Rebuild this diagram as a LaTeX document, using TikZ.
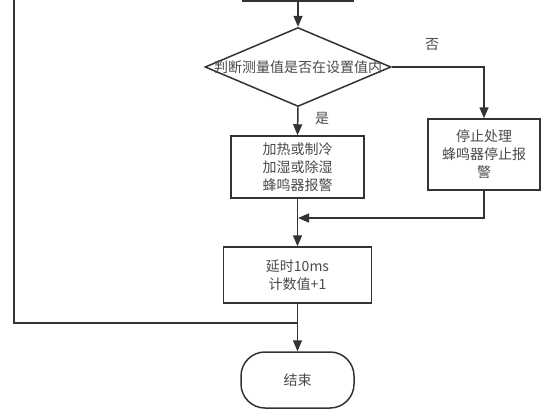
\documentclass[tikz,border=0pt]{standalone}
\usepackage{fontspec}
\setmainfont{Noto Sans CJK SC}
\usetikzlibrary{shapes.geometric,arrows.meta}
\definecolor{linec}{HTML}{333333}
\definecolor{txtc}{HTML}{4A4A4A}
\begin{document}
\begin{tikzpicture}[x=1pt,y=-1pt,
  line/.style={draw=linec,line width=1.5pt},
  arr/.style={line,-{Triangle[length=11pt,width=9pt]}},
  txt/.style={text=txtc,font=\fontsize{14}{18}\selectfont,align=center,inner sep=0pt},
  box/.style={draw=linec,line width=1.5pt,fill=white,txt},
  dec/.style={diamond,draw=linec,line width=1.5pt,fill=white,inner sep=0pt,aspect=2.35},
  term/.style={box,rounded corners=24pt}]
\useasboundingbox (0,0) rectangle (559,413);
\clip (0,0) rectangle (559,413);
\node[box,minimum width=110,minimum height=44] (top) at (298,-21) {};
\node[dec,minimum width=186,minimum height=79] (dia) at (298,67) {};
\node[txt] (diat) at (dia.center) {判断测量值是否在设置值内};
\node[box,minimum width=133,minimum height=62] (left) at (297.5,167) {加热或制冷\\加湿或除湿\\蜂鸣器报警};
\node[box,minimum width=112,minimum height=71] (right) at (484,154.5) {停止处理\\蜂鸣器停止报\\警};
\node[box,minimum width=148,minimum height=56] (delay) at (297.5,275) {延时10ms\\计数值+1};
\node[term,minimum width=113,minimum height=56] (fin) at (297.5,380) {结束};
\node[txt] (no) at (432,45) {否};
\node[txt] (yes) at (322,118) {是};
\coordinate (j1) at (298,218);
\coordinate (j2) at (298,323);
\coordinate (lt) at (14,-10);
\draw[arr] (top.south) -- (dia.north);
\draw[arr] (dia.east) -| (right.north);
\draw[arr] (dia.south) -- (left.north);
\draw[arr] (left.south) -- (delay.north);
\draw[arr] (right.south) |- (j1);
\draw[arr] (delay.south) -- (fin.north);
\draw[line] (j2) -| (lt);
\end{tikzpicture}
\end{document}
